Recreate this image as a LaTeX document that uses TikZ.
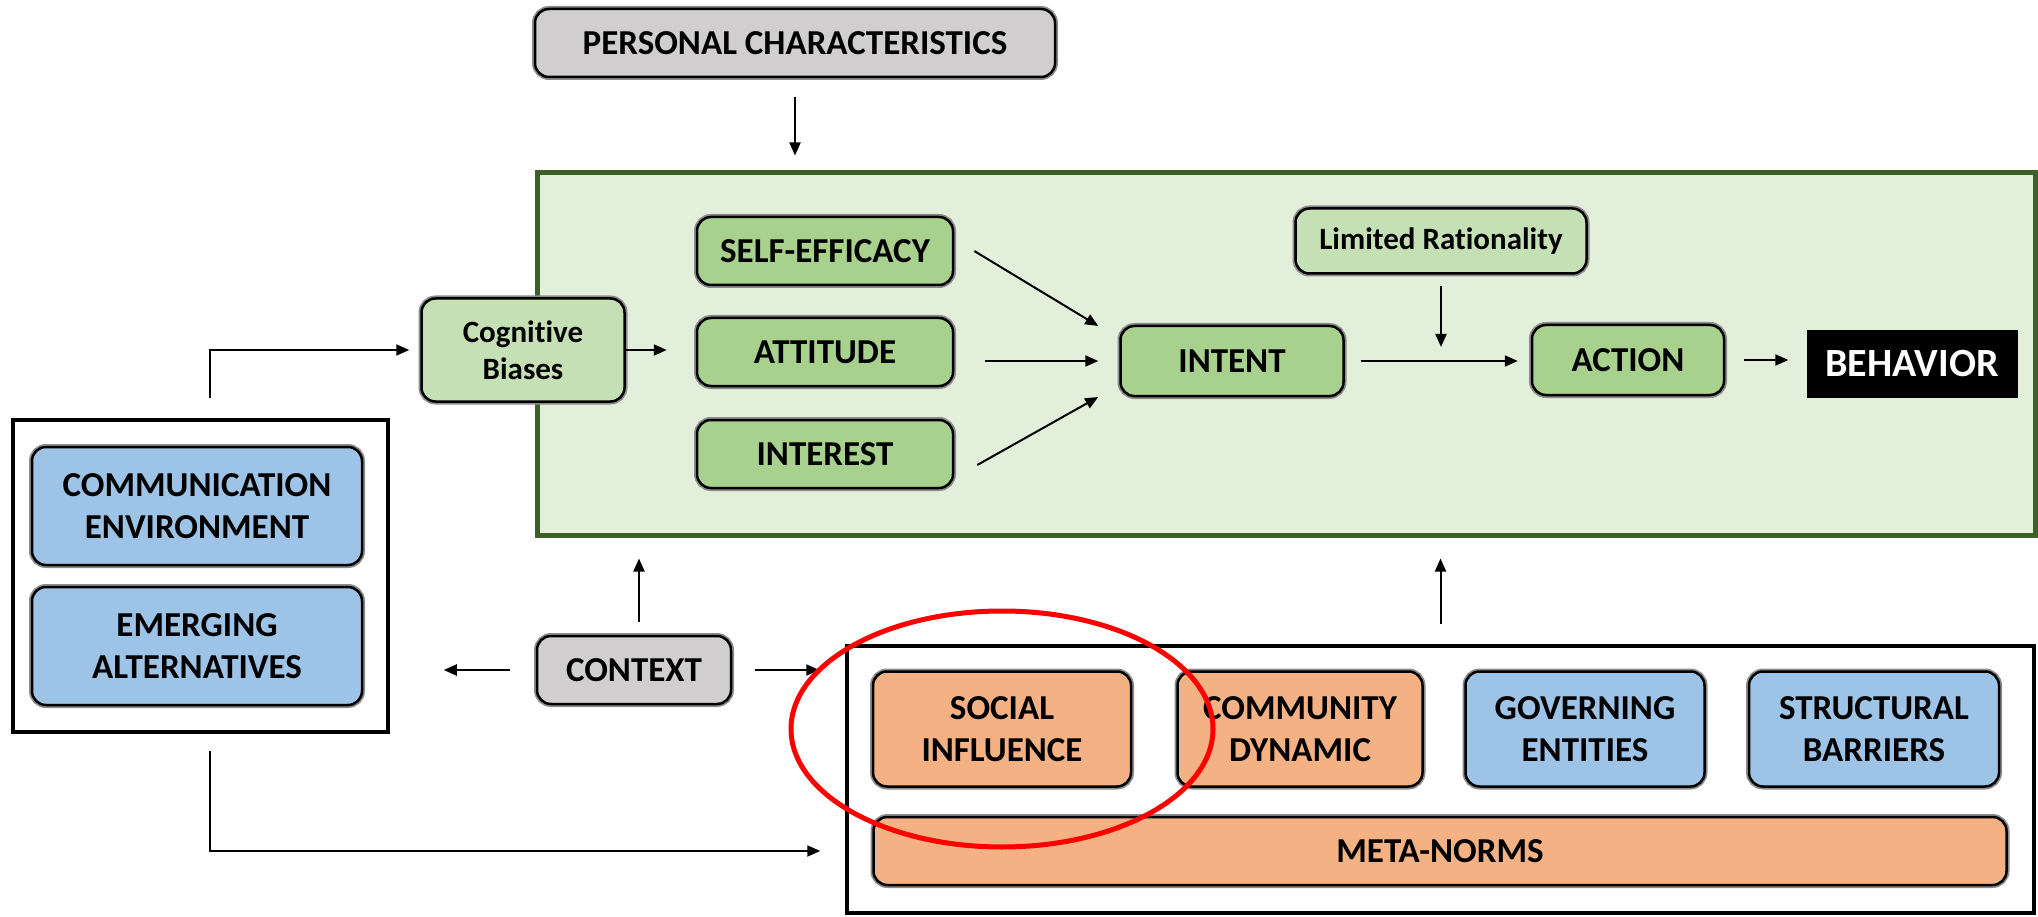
\documentclass[tikz,border=0pt]{standalone}
\usepackage{fontspec}
\setmainfont{Carlito}[Ligatures=NoCommon]
\usetikzlibrary{arrows.meta,calc}
\definecolor{gfill}{HTML}{E2EFDA}
\definecolor{gborder}{HTML}{3F5F2A}
\definecolor{gnode}{HTML}{A9D18E}
\definecolor{lgnode}{HTML}{C5E0B4}
\definecolor{bnode}{HTML}{9DC3E6}
\definecolor{onode}{HTML}{F4B183}
\definecolor{graynode}{HTML}{D0CECE}
\tikzset{
  box/.style={rounded corners=14pt, draw=black, line width=2.5pt,
    preaction={draw=black!45, line width=6pt},
    align=center, inner sep=0pt, font=\fontsize{35}{42}\selectfont\bfseries},
  smallbox/.style={box, font=\fontsize{31}{37}\selectfont\bfseries},
  graybox/.style={box, fill=graynode},
  greenbox/.style={box, fill=gnode},
  lgreenbox/.style={smallbox, fill=lgnode},
  bluebox/.style={box, fill=bnode},
  orangebox/.style={box, fill=onode},
  frame/.style={draw=black, line width=3.5pt, inner sep=0pt},
  arr/.style={draw=black, line width=2pt, -{Triangle[length=13pt,width=11pt]}}
}
\begin{document}
\begin{tikzpicture}[x=1pt,y=-1pt]
\useasboundingbox (0,0) rectangle (2038,917);
% green frame
\node[fill=gfill, draw=gborder, line width=5pt, inner sep=0pt, minimum width=1498pt, minimum height=362pt] (frame) at (1286,354) {};
% top
\node[graybox, minimum width=520pt, minimum height=68pt] (pc) at (795,43) {PERSONAL CHARACTERISTICS};
% inside green
\node[lgreenbox, minimum width=203pt, minimum height=103pt] (cb) at (523,350) {Cognitive\\Biases};
\node[greenbox, minimum width=256pt, minimum height=68pt] (se) at (825,251) {SELF-EFFICACY};
\node[greenbox, minimum width=256pt, minimum height=68pt] (att) at (825,352) {ATTITUDE};
\node[greenbox, minimum width=256pt, minimum height=68pt] (int) at (825,454) {INTEREST};
\node[greenbox, minimum width=223pt, minimum height=70pt] (intent) at (1232,361) {INTENT};
\node[lgreenbox, minimum width=291pt, minimum height=65pt] (lr) at (1441,241) {Limited Rationality};
\node[greenbox, minimum width=192pt, minimum height=70pt] (action) at (1628,360) {ACTION};
\node[fill=black, text=white, inner sep=0pt, minimum width=211pt, minimum height=67pt, font=\fontsize{40}{44}\selectfont\bfseries] (beh) at (1912,364) {BEHAVIOR};
% left box
\node[frame, minimum width=375pt, minimum height=312pt] (lb) at (200.5,576) {};
\node[bluebox, minimum width=330pt, minimum height=118pt] (comm) at (197,506) {COMMUNICATION\\ENVIRONMENT};
\node[bluebox, minimum width=330pt, minimum height=118pt] (emerg) at (197,646) {EMERGING\\ALTERNATIVES};
% context
\node[graybox, minimum width=194pt, minimum height=68pt] (ctx) at (634,670) {CONTEXT};
% bottom box
\node[frame, minimum width=1187pt, minimum height=267pt] (bb) at (1440.5,779.5) {};
\node[orangebox, minimum width=258pt, minimum height=115pt] (soc) at (1002,729) {SOCIAL\\INFLUENCE};
\node[orangebox, minimum width=245pt, minimum height=115pt] (com) at (1300,729) {COMMUNITY\\DYNAMIC};
\node[bluebox, minimum width=239pt, minimum height=115pt] (gov) at (1585,729) {GOVERNING\\ENTITIES};
\node[bluebox, minimum width=250pt, minimum height=115pt] (str) at (1874,729) {STRUCTURAL\\BARRIERS};
\node[orangebox, minimum width=1133pt, minimum height=68pt] (meta) at (1440,851) {META-NORMS};
% arrows
\draw[arr, shorten <=19pt, shorten >=15pt] (pc.south) -- (pc.south |- frame.north);
\draw[arr, shorten >=29pt] (cb.east) -- (cb.east -| att.west);
\draw[arr] ($(se.east)+(20,0)$) -- ($(intent.west)+(-21,-35)$);
\draw[arr] ($(att.east |- intent.west)+(31,0)$) -- ($(intent.west)+(-21,0)$);
\draw[arr] ($(int.east)+(23,11)$) -- ($(intent.west)+(-21,36)$);
\draw[arr, shorten <=11pt, shorten >=14pt] (lr.south) -- (lr.south |- intent.east);
\draw[arr, shorten <=16pt, shorten >=13pt] (intent.east) -- (intent.east -| action.west);
\draw[arr, shorten <=19pt, shorten >=18pt] (action.east) -- (action.east -| beh.west);
\draw[arr, shorten >=11pt] ($(lb.north)+(9,-20)$) |- (cb.west);
\draw[arr, shorten >=52pt] ($(lb.south)+(9,17)$) |- (meta.west);
\draw[arr, shorten <=13pt, shorten >=21pt] ($(ctx.north)+(5,0)$) -- ($(ctx.north |- frame.south)+(5,0)$);
\draw[arr, shorten <=26pt, shorten >=54pt] (ctx.west) -- (ctx.west -| lb.east);
\draw[arr, shorten <=23pt, shorten >=26pt] (ctx.east) -- (ctx.east -| bb.west);
\draw[arr, shorten <=20pt, shorten >=21pt] (bb.north) -- (bb.north |- frame.south);
% red ellipse
\draw[red, line width=5pt] (soc.center) ellipse [x radius=211pt, y radius=118pt];
\end{tikzpicture}
\end{document}
